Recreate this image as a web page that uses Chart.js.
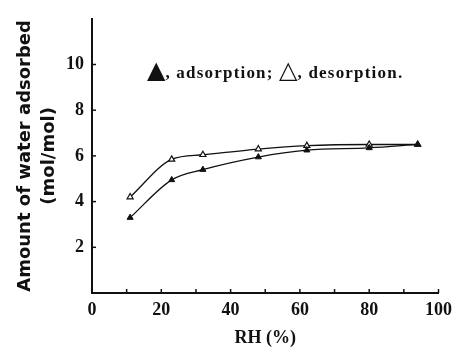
<!DOCTYPE html>
<html>
<head>
<meta charset="utf-8">
<script src="https://cdn.jsdelivr.net/npm/chart.js@4.4.0/dist/chart.umd.min.js"></script>
<style>
  body { margin: 0; background: #fff; }
  #wrap { width: 459px; height: 349px; }
</style>
</head>
<body>
<div id="wrap"><canvas id="rh-chart" width="459" height="349"></canvas></div>
<script>
// values
const rhAds = [11, 23, 32, 48, 62, 80, 94];
const waterAds = [3.3, 4.95, 5.4, 5.95, 6.25, 6.35, 6.5];
const rhDes = [11, 23, 32, 48, 62, 80, 94];
const waterDes = [4.2, 5.85, 6.05, 6.3, 6.45, 6.5, 6.5];
const xTicks = [0, 20, 40, 60, 80, 100];
const yTicks = [2, 4, 6, 8, 10];
// note inside the plot: [text, is it a symbol]
const noteParts = [["\u25B2", true], [", adsorption; ", false], ["\u25B3", true], [", desorption.", false]];

function toPoints(xs, ys){
    return xs.map((x, i) => ({x: x, y: ys[i]}));
}

// small ticks drawn inside the plot, like the printed figure
const innerTicks = {
    id: 'innerTicks',
    afterDraw(chart){
        const ctx = chart.ctx;
        const area = chart.chartArea;
        const xs = chart.scales.x, ys = chart.scales.y;
        ctx.save();
        ctx.strokeStyle = '#111';
        ctx.lineWidth = 1.5;
        xs.ticks.forEach(t => {
            if (t.value === 0) return;
            const px = xs.getPixelForValue(t.value);
            ctx.beginPath();
            ctx.moveTo(px, area.bottom);
            ctx.lineTo(px, area.bottom - 4);
            ctx.stroke();
        });
        ys.ticks.forEach(t => {
            if (t.value === 0 || !yTicks.includes(t.value)) return;
            const py = ys.getPixelForValue(t.value);
            ctx.beginPath();
            ctx.moveTo(area.left, py);
            ctx.lineTo(area.left + 4, py);
            ctx.stroke();
        });
        // the note
        ctx.fillStyle = '#111';
        ctx.textBaseline = 'alphabetic';
        let x = 147;
        noteParts.forEach(p => {
            if (p[1]) {
                ctx.font = '24px "DejaVu Sans", sans-serif';
                ctx.letterSpacing = '0px';
            } else {
                ctx.font = 'bold 17px "Liberation Serif", serif';
                ctx.letterSpacing = '1.2px';
            }
            ctx.fillText(p[0], x, 78);
            x += ctx.measureText(p[0]).width;
        });
        ctx.restore();
    }
};

let waterChart = new Chart(
    document.getElementById('rh-chart'),{
        type: 'scatter',
        data: {
            datasets: [
                {
                    label: 'adsorption',
                    data: toPoints(rhAds, waterAds),
                    showLine: true,
                    borderColor: '#111',
                    borderWidth: 1.3,
                    backgroundColor: '#111',
                    pointStyle: 'triangle',
                    pointRadius: 3.5,
                    pointBorderWidth: 1,
                    pointBackgroundColor: '#111',
                    pointBorderColor: '#111',
                    cubicInterpolationMode: 'monotone',
                },
                {
                    label: 'desorption',
                    data: toPoints(rhDes, waterDes),
                    showLine: true,
                    borderColor: '#111',
                    borderWidth: 1.3,
                    backgroundColor: '#fff',
                    pointStyle: 'triangle',
                    pointRadius: 3.5,
                    pointBorderWidth: 1.2,
                    pointBackgroundColor: '#fff',
                    pointBorderColor: '#111',
                    cubicInterpolationMode: 'monotone',
                }
            ]
        },
        options: {
            responsive: false,
            animation: false,
            layout: { padding: { top: 17, right: 17, left: 14, bottom: 0 } },
            plugins: {
                legend: { display: false },
                tooltip: { enabled: false }
            },
            scales: {
                x: {
                    type: 'linear',
                    min: 0,
                    max: 100,
                    ticks: {
                        stepSize: 10,
                        color: '#111',
                        padding: 7,
                        maxRotation: 0,
                        font: { family: '"Liberation Serif", serif', size: 18, weight: 'bold' },
                        callback: v => xTicks.includes(v) ? String(v) : ''
                    },
                    grid: { display: true, drawOnChartArea: false, drawTicks: false },
                    border: { display: true, color: '#111', width: 2 },
                    title: {
                        display: true,
                        text: 'RH (%)',
                        color: '#111',
                        padding: { top: 0, bottom: 0 },
                        font: { family: '"Liberation Serif", serif', size: 18, weight: 'bold' }
                    },
                    afterFit: s => { s.height = 56; }
                },
                y: {
                    min: 0,
                    max: 12,
                    ticks: {
                        stepSize: 2,
                        color: '#111',
                        padding: 8,
                        font: { family: '"Liberation Serif", serif', size: 18, weight: 'bold' },
                        callback: v => yTicks.includes(v) ? String(v) : ''
                    },
                    grid: { display: true, drawOnChartArea: false, drawTicks: false },
                    border: { display: true, color: '#111', width: 2 },
                    title: {
                        display: true,
                        text: ['Amount of water adsorbed', '(mol/mol)'],
                        color: '#111',
                        padding: { top: 0, bottom: 0 },
                        font: { family: '"DejaVu Sans", sans-serif', size: 18, weight: 'bold', lineHeight: 1.3 }
                    },
                    afterFit: s => { s.width = 78; }
                }
            }
        },
        plugins: [innerTicks]
    }
);
</script>
</body>
</html>
